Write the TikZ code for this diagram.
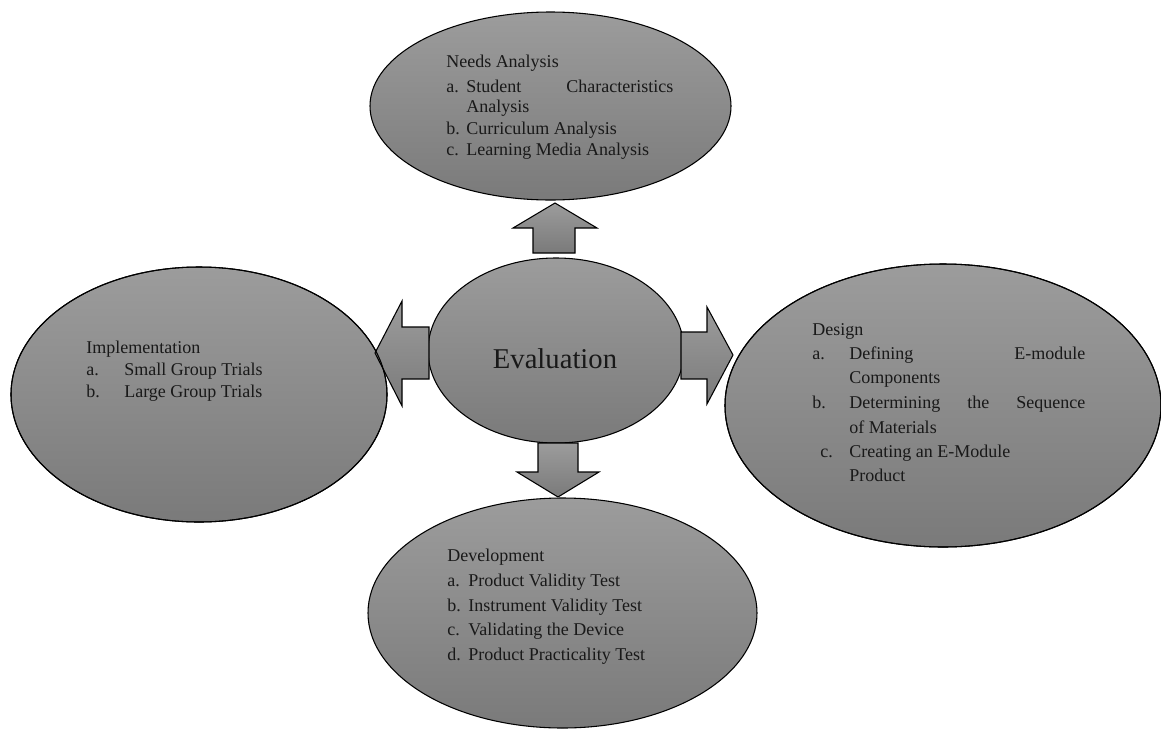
\documentclass[tikz,border=0pt]{standalone}
\usepackage{fontspec}
\setmainfont{Liberation Serif}
\usetikzlibrary{shapes.geometric}
\definecolor{gtop}{RGB}{156,156,156}
\definecolor{gbot}{RGB}{122,122,122}
\definecolor{txtc}{RGB}{25,25,25}
\newcommand{\smallfs}{\fontsize{13.5}{16}\selectfont}
\begin{document}
\begin{tikzpicture}[x=0.75pt,y=-0.75pt,
  blob/.style={ellipse, draw=black, line width=0.8pt, inner sep=0pt, top color=gtop, bottom color=gbot},
  blockarrow/.style={draw=black, line width=0.8pt, top color=gtop, bottom color=gbot},
  rim/.style={draw=black, line width=0.8pt},
  txt/.style={anchor=base west, inner sep=0pt, font=\smallfs, text=txtc}]
\useasboundingbox (0,0) rectangle (1161,729);

% ellipses
\node[blob, minimum width=282pt, minimum height=191.25pt] (impl) at (199,394.5) {};
\node[blob, minimum width=270.75pt, minimum height=141pt] (needs) at (550.5,106) {};
\node[blob, minimum width=327pt, minimum height=212.25pt] (design) at (943,405.5) {};
\node[blob, minimum width=291.75pt, minimum height=172.5pt] (dev) at (562.5,613) {};
\node[blob, minimum width=192pt, minimum height=138.75pt] (eval) at (556,350.5) {};

% block arrows
\path[blockarrow] (533,253) -- (533,228) -- (513,228) -- (555,203) -- (597,228) -- (575,228) -- (575,253) -- cycle;
\path[blockarrow] (429,327) -- (402,327) -- (402,301) -- (375,353) -- (402,406) -- (402,379) -- (429,379) -- cycle;
\path[blockarrow] (681,332) -- (707,332) -- (707,307) -- (733,355) -- (707,404) -- (707,379) -- (681,379) -- cycle;
\path[blockarrow] (538,443) -- (578,443) -- (578,472) -- (599,472) -- (558,497) -- (517,472) -- (538,472) -- cycle;

% rims of the ellipses under the arrow tips
\draw[rim] (impl.center) ellipse [x radius=141pt, y radius=95.625pt];
\draw[rim] (design.center) ellipse [x radius=163.5pt, y radius=106.125pt];

% centre text
\node[anchor=base, inner sep=0pt, font=\fontsize{21.5}{26}\selectfont, text=txtc] (evaltxt) at (555,368) {Evaluation};

% Needs Analysis
\node[txt] (n0) at (446,67) {Needs Analysis};
\node[txt] (n1l) at (446,92) {a.};
\node[txt] (n1) at (466,92) {\makebox[155.25pt][s]{Student\hfill Characteristics}};
\node[txt] (n1b) at (466,112) {Analysis};
\node[txt] (n2l) at (446,134) {b.};
\node[txt] (n2) at (466,134) {Curriculum Analysis};
\node[txt] (n3l) at (446,155) {c.};
\node[txt] (n3) at (466,155) {Learning Media Analysis};

% Implementation
\node[txt] (i0) at (86,353) {Implementation};
\node[txt] (i1l) at (86,375) {a.};
\node[txt] (i1) at (124,375) {Small Group Trials};
\node[txt] (i2l) at (86,397) {b.};
\node[txt] (i2) at (124,397) {Large Group Trials};

% Design
\node[txt] (d0) at (812,335) {Design};
\node[txt] (d1l) at (812,359) {a.};
\node[txt] (d1) at (849,359) {\makebox[177pt][s]{Defining\hfill E-module}};
\node[txt] (d1b) at (849,383) {Components};
\node[txt] (d2l) at (812,408) {b.};
\node[txt] (d2) at (849,408) {\makebox[177pt][s]{Determining the Sequence}};
\node[txt] (d2b) at (849,433) {of Materials};
\node[txt] (d3l) at (820,457) {c.};
\node[txt] (d3) at (849,457) {Creating an E-Module};
\node[txt] (d3b) at (849,481) {Product};

% Development
\node[txt] (v0) at (447,561) {Development};
\node[txt] (v1l) at (447,586) {a.};
\node[txt] (v1) at (468,586) {Product Validity Test};
\node[txt] (v2l) at (447,611) {b.};
\node[txt] (v2) at (468,611) {Instrument Validity Test};
\node[txt] (v3l) at (447,635) {c.};
\node[txt] (v3) at (468,635) {Validating the Device};
\node[txt] (v4l) at (447,660) {d.};
\node[txt] (v4) at (468,660) {Product Practicality Test};
\end{tikzpicture}
\end{document}
